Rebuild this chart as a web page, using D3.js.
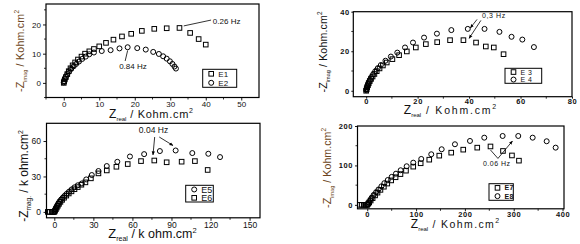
<!DOCTYPE html>
<html>
<head>
<meta charset="utf-8">
<script src="https://cdn.jsdelivr.net/npm/d3@7"></script>
<style>
body { margin: 0; background: #fff; }
svg { display: block; font-family: "Liberation Sans", Arial, sans-serif; }
text { white-space: pre; }
</style>
</head>
<body>
<svg id="chart" width="580" height="244"></svg>
<script>
// 資料 (Zreal, -Zimag) 讀自原圖
const e1 = [[0,0],[0.1,0.5],[0.3,1.2],[0.6,2.0],[1.0,3.0],[1.4,4.0],[1.9,5.0],[2.5,6.0],[3.2,7.0],[4.0,8.0],[5.0,9.0],[6.0,10.0],[7.2,10.8],[8.5,11.6],[10.0,12.5],[11.9,13.7],[14.0,14.8],[16.4,15.9],[19.0,16.8],[22.0,17.8],[25.5,18.5],[29.0,18.7],[32.6,18.8],[35.6,17.1],[38.0,15.0],[40.0,13.1]]
const e2 = [[0,0.2],[0.1,0.6],[0.3,1.3],[0.6,2.1],[1.0,3.0],[1.5,3.9],[2.1,4.8],[2.8,5.7],[3.5,6.5],[4.3,7.3],[5.2,8.2],[6.2,9.0],[7.2,9.8],[8.5,10.4],[10.7,10.9],[13.2,11.2],[15.7,11.8],[18.0,12.2],[20.7,11.9],[23.1,11.4],[25.2,10.6],[26.8,9.9],[28.0,9.1],[29.0,8.3],[29.9,7.4],[30.6,6.5],[31.2,5.6],[31.6,4.9]]

const e3 = [[0,0],[0.2,0.8],[0.4,1.8],[0.7,2.8],[1.0,3.8],[1.4,4.9],[1.9,6.0],[2.5,7.2],[3.2,8.5],[4.1,9.9],[5.2,11.3],[6.5,12.8],[8.0,14.3],[10.2,16.0],[12.8,18.0],[15.8,19.9],[19.3,21.9],[23.2,23.6],[27.6,24.6],[32.6,25.6],[37.8,25.6],[42.7,24.4],[46.5,22.4],[49.6,21.9],[53.4,18.5]]
const e4 = [[0,0.3],[0.2,1.2],[0.4,2.2],[0.7,3.3],[1.0,4.4],[1.5,5.6],[2.0,6.9],[2.7,8.3],[3.5,9.8],[4.5,11.4],[5.7,13.0],[7.5,15.2],[9.6,17.3],[12.1,19.3],[15.1,21.9],[18.2,24.4],[22.5,26.9],[27.5,28.9],[33.1,30.7],[39.5,31.3],[46.0,31.3],[51.8,29.8],[56.5,27.3],[60.7,25.9],[65.2,22.1]]

const e5 = [[0,0],[0.4,1.2],[0.9,2.6],[1.5,4.0],[2.2,5.5],[3.0,7.0],[3.9,8.6],[5.0,10.2],[6.3,11.8],[7.8,13.5],[9.5,15.3],[11.3,17.1],[13.3,19.0],[15.5,20.8],[18.0,22.5],[21.2,24.1],[24.5,27.5],[28.8,31.2],[33.9,34.6],[40.3,38.8],[48.4,42.4],[58.1,46.9],[69.0,48.9],[81.1,51.5],[93.2,52.0],[106.0,49.8],[118.3,49.2],[127.3,46.4]]
const e6 = [[-5,0],[-3.5,0],[-2,0],[-1,0],[0,0],[0.6,1.0],[1.2,2.3],[1.9,3.7],[2.7,5.2],[3.6,6.8],[4.7,8.5],[6.0,10.2],[7.5,12.0],[9.2,13.8],[11.1,15.6],[13.2,17.4],[15.5,19.2],[18.0,21.0],[20.8,23.0],[23.9,25.0],[28.1,28.4],[33.9,32.6],[40.3,35.1],[47.7,38.2],[56.4,40.5],[66.6,43.0],[76.8,43.5],[86.3,42.0],[97.8,42.5],[108.0,43.0],[117.8,35.5]]

const e7 = [[-15,0],[-11,0],[-7,0],[-3,0],[0,0],[2,3],[4,6],[7,11],[11,17],[16,24],[21,31],[27,38],[34,46],[41,54],[49,62],[58,70],[68,78],[79.3,86.7],[94.2,96.9],[109.4,105.5],[127.0,114.6],[147.5,124.8],[172.0,132.4],[196.6,140.0],[225.3,145.1],[252.4,148.1],[278.0,136.7],[296.4,125.3],[310.7,112.1]]
const e8 = [[0,0],[1,2],[3,6],[6,12],[9,18],[13,25],[18,32],[23,39],[29,47],[35,55],[42,63],[50,71],[58.8,79.1],[68.4,87.7],[80.7,97.9],[94.2,107.0],[110.6,116.4],[131.1,128.3],[152.4,141.0],[179.6,153.7],[210.4,162.1],[239.7,170.4],[277.3,174.7],[309.3,174.7],[338.8,170.4],[367.5,161.3],[385.9,145.1]]

// 刻度
const ticks1 = {x:[0,10,20,30,40,50], y:[0,10,20]}
const ticks2 = {x:[0,20,40,60,80], y:[0,20,40]}
const ticks3 = {x:[0,30,60,90,120,150], y:[0,30,60]}
const ticks4 = {x:[0,100,200,300,400], y:[0,100,200]}

const svg = d3.select('#chart')

svg.append('defs').append('marker')
  .attr('id','arrow').attr('viewBox','0 0 10 10')
  .attr('refX',9).attr('refY',5)
  .attr('markerWidth',5).attr('markerHeight',5)
  .attr('orient','auto')
  .append('path').attr('d','M0,1 L10,5 L0,9 Z').attr('fill','#000')

const panels = [
  {
    box:{x0:46, y0:4, x1:259, y1:97.5}, xDomain:[-5,55], yDomain:[-5,27],
    ticks:ticks1, xMinor:5, yMinor:5, tickFont:8, tickLs:0, tickWeight:'normal', tickSize:3, tickPad:0.5,
    series:[{data:e1, shape:'square'}, {data:e2, shape:'circle'}],
    legend:{x0:202.7, y0:69.3, x1:236.7, y1:87.3, items:[['square','E1'],['circle','E2']], font:8, ls:0.3},
    xLabel:{x:151, y:118, parts:[{t:'Z',s:12},{t:'real',s:6,dy:3},{t:' / Kohm.cm',s:11,dy:-3,ls:0.7},{t:'2',s:7,dy:-5}]},
    yLabel:{x:23.5, y:51, c:'#6b4420', parts:[{t:'-Z',s:11},{t:'imag',s:5.5,dy:3},{t:' / Kohm.cm',s:10.5,dy:-3,ls:0.3},{t:'2',s:6.5,dy:-5}]},
    notes:[
      {text:'0.26 Hz', at:[42.0,20.3], anchor:'start', font:8, lines:[[[33.8,19.5],[41.5,21.5]]]},
      {text:'0.84 Hz', at:[15.6,4.9], anchor:'start', font:8, lines:[[[18.0,11.1],[17.3,7.5]]]}
    ]
  },
  {
    box:{x0:353.3, y0:11.7, x1:572, y1:96.7}, xDomain:[-5,80], yDomain:[-3,40],
    ticks:ticks2, xMinor:10, yMinor:10, tickFont:7.5, tickLs:0.6, tickWeight:'bold', tickSize:2, tickPad:0,
    series:[{data:e3, shape:'square'}, {data:e4, shape:'circle'}],
    legend:{x0:505, y0:68.3, x1:541.7, y1:83.3, items:[['square','E 3'],['circle','E 4']], font:7, ls:0.4},
    xLabel:{x:450, y:113.5, parts:[{t:'Z',s:12},{t:'real',s:6,dy:3},{t:' / Kohm.cm',s:10.5,dy:-3,ls:1.8},{t:'2',s:7,dy:-5}]},
    yLabel:{x:326.5, y:52, parts:[{t:'-Z',s:11},{t:'imag',s:5.5,dy:3},{t:' / Kohm.cm',s:10.5,dy:-3,ls:0.2},{t:'2',s:6.5,dy:-5}]},
    notes:[
      {text:'0,3 Hz', at:[45.0,36.8], anchor:'start', font:7, ls:0.6, arrow:true,
       lines:[[[43.1,36.1],[40.5,31.8]], [[44.6,35.6],[40.0,26.5]]]}
    ]
  },
  {
    box:{x0:46.5, y0:123.3, x1:260, y1:217.8}, xDomain:[-6,158], yDomain:[-5,75],
    ticks:ticks3, xMinor:15, yMinor:15, tickFont:8.5, tickLs:0, tickWeight:'normal', tickSize:3, tickPad:1,
    series:[{data:e5, shape:'circle'}, {data:e6, shape:'square'}],
    legend:{x0:185.7, y0:185.3, x1:213.3, y1:202, items:[['circle','E5'],['square','E6']], font:9, ls:0},
    xLabel:{x:152.5, y:238, parts:[{t:'Z',s:13},{t:'real',s:7,dy:3},{t:' / k ohm.cm',s:12.5,dy:-3},{t:'2',s:7.5,dy:-5}]},
    yLabel:{x:27.5, y:176, parts:[{t:'-Z',s:12},{t:'mag.',s:6.5,dy:3},{t:' / k ohm.cm',s:12,dy:-3},{t:'2',s:7,dy:-5}]},
    notes:[
      {text:'0.04 Hz', at:[76.2,66.8], anchor:'middle', font:8.5, arrow:true,
       lines:[[[77.1,63.4],[75.8,48.2]], [[80.6,63.4],[91.2,56.2]]]}
    ]
  },
  {
    box:{x0:357.5, y0:126, x1:564, y1:208.8}, xDomain:[-20,403], yDomain:[-10,200],
    ticks:ticks4, xMinor:50, yMinor:50, tickFont:7.5, tickLs:0.6, tickWeight:'bold', tickSize:2.5, tickPad:0.5,
    series:[{data:e7, shape:'square'}, {data:e8, shape:'circle'}],
    legend:{x0:489, y0:183.7, x1:513.3, y1:200.3, items:[['square','E7'],['circle','E8']], font:7, ls:0.4, weight:'bold'},
    xLabel:{x:455, y:228, parts:[{t:'Z',s:12},{t:'real',s:6,dy:3},{t:' / Kohm.cm',s:10.5,dy:-3,ls:1.4},{t:'2',s:7,dy:-5}]},
    yLabel:{x:331, y:168, c:'#6b4420', parts:[{t:'-Z',s:11},{t:'imag',s:5.5,dy:3},{t:' / Kohm.cm',s:10.5,dy:-3,ls:0.1},{t:'2',s:6.5,dy:-5}]},
    notes:[
      {text:'0.06 Hz', at:[237,99], anchor:'start', font:7, ls:0.5, arrow:true,
       lines:[[[252.4,139.2],[267.7,117.7],[297.4,162]]]}
    ]
  }
]

function drawMarker(g, shape, cx, cy) {
  if (shape === 'square') {
    g.append('rect').attr('x',cx-2.3).attr('y',cy-2.3).attr('width',4.6).attr('height',4.6)
      .attr('fill','none').attr('stroke','#000').attr('stroke-width',1)
  } else {
    g.append('circle').attr('cx',cx).attr('cy',cy).attr('r',2.5)
      .attr('fill','none').attr('stroke','#000').attr('stroke-width',1)
  }
}

function richText(g, lab, rotate) {
  const t = g.append('text')
    .attr('transform',`translate(${lab.x},${lab.y}) rotate(${rotate})`)
    .attr('text-anchor','middle')
    .attr('fill', lab.c || '#111')
  lab.parts.forEach(p => {
    t.append('tspan').attr('font-size',p.s).attr('dy',p.dy || 0)
      .attr('letter-spacing',p.ls || 0).text(p.t)
  })
}

function drawPanel(p) {
  const b = p.box
  const x = d3.scaleLinear().domain(p.xDomain).range([b.x0, b.x1])
  const y = d3.scaleLinear().domain(p.yDomain).range([b.y1, b.y0])
  const g = svg.append('g')

  // 軸
  const xAxis = d3.axisBottom(x).tickValues(p.ticks.x).tickSize(p.tickSize).tickSizeOuter(0).tickPadding(p.tickPad)
  const yAxis = d3.axisLeft(y).tickValues(p.ticks.y).tickSize(p.tickSize).tickSizeOuter(0).tickPadding(p.tickPad + 1.5)
  const xg = g.append('g').attr('transform',`translate(0,${b.y1})`).call(xAxis)
  const yg = g.append('g').attr('transform',`translate(${b.x0},0)`).call(yAxis)
  ;[xg, yg].forEach(a => {
    a.select('.domain').remove()
    a.selectAll('line').attr('stroke','#000').attr('stroke-width',0.9)
    a.selectAll('text').attr('font-size',p.tickFont).attr('fill','#111')
      .attr('font-family','"Liberation Sans", Arial, sans-serif')
      .attr('font-weight',p.tickWeight).attr('letter-spacing',p.tickLs)
  })

  // 次刻度
  const xMinor = d3.range(Math.ceil(p.xDomain[0]/p.xMinor)*p.xMinor, p.xDomain[1], p.xMinor)
    .filter(v => !p.ticks.x.includes(v))
  const yMinor = d3.range(Math.ceil(p.yDomain[0]/p.yMinor)*p.yMinor, p.yDomain[1], p.yMinor)
    .filter(v => !p.ticks.y.includes(v))
  g.selectAll('.xminor').data(xMinor).enter().append('line')
    .attr('x1',d=>x(d)).attr('x2',d=>x(d)).attr('y1',b.y1).attr('y2',b.y1+2)
    .attr('stroke','#000').attr('stroke-width',0.8)
  g.selectAll('.yminor').data(yMinor).enter().append('line')
    .attr('y1',d=>y(d)).attr('y2',d=>y(d)).attr('x1',b.x0).attr('x2',b.x0-2)
    .attr('stroke','#000').attr('stroke-width',0.8)

  // 資料點
  p.series.forEach(s => {
    const sg = g.append('g')
    s.data.forEach(d => drawMarker(sg, s.shape, x(d[0]), y(d[1])))
  })

  // 外框
  g.append('rect').attr('x',b.x0).attr('y',b.y0).attr('width',b.x1-b.x0).attr('height',b.y1-b.y0)
    .attr('fill','none').attr('stroke','#000').attr('stroke-width',1.2)

  // 註解
  p.notes.forEach(n => {
    n.lines.forEach(l => {
      g.append('path')
        .attr('d', d3.line().x(d=>x(d[0])).y(d=>y(d[1]))(l))
        .attr('fill','none').attr('stroke','#000').attr('stroke-width',0.8)
        .attr('marker-end', n.arrow ? 'url(#arrow)' : null)
    })
    g.append('text').attr('x',x(n.at[0])).attr('y',y(n.at[1]))
      .attr('text-anchor',n.anchor).attr('font-size',n.font)
      .attr('letter-spacing',n.ls || 0).attr('fill','#111').text(n.text)
  })

  // 圖例
  const L = p.legend
  g.append('rect').attr('x',L.x0).attr('y',L.y0).attr('width',L.x1-L.x0).attr('height',L.y1-L.y0)
    .attr('fill','#fff').attr('stroke','#000').attr('stroke-width',1)
  const rowH = (L.y1 - L.y0) / L.items.length
  L.items.forEach((it, i) => {
    const cy = L.y0 + rowH*(i+0.5)
    drawMarker(g, it[0], L.x0 + 8.5, cy)
    g.append('text').attr('x',L.x0 + 15.5).attr('y',cy).attr('dy','0.35em')
      .attr('font-size',L.font).attr('letter-spacing',L.ls).attr('font-weight',L.weight || 'normal')
      .attr('fill','#111').text(it[1])
  })

  // 軸標題
  richText(g, p.xLabel, 0)
  richText(g, p.yLabel, -90)
}

panels.forEach(drawPanel)
</script>
</body>
</html>
